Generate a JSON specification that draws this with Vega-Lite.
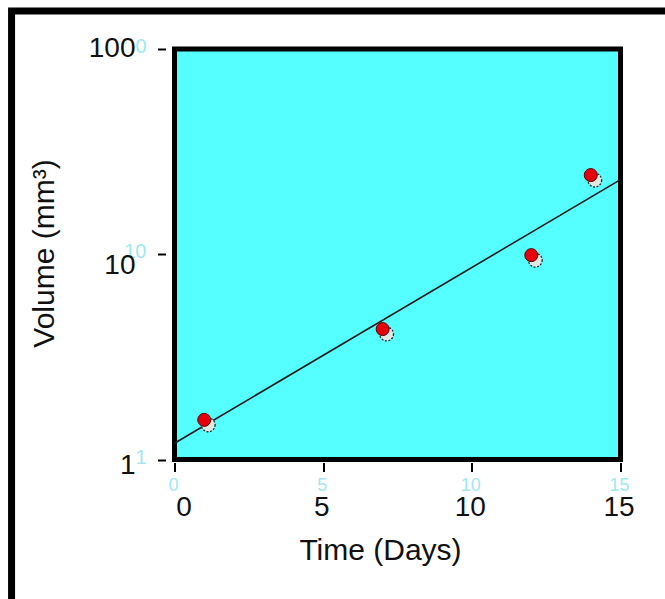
{
  "$schema": "https://vega.github.io/schema/vega-lite/v6.json",
  "width": 446,
  "height": 410.5,
  "autosize": {"type": "none"},
  "padding": {"left": 174.5, "top": 49, "right": 44.5, "bottom": 139.5},
  "background": "white",
  "datasets": {
    "points": [
      {"day": 1, "volume": 1.56},
      {"day": 7, "volume": 4.32},
      {"day": 12, "volume": 9.9},
      {"day": 14, "volume": 24.3}
    ],
    "fit": [
      {"day": 0, "volume": 1.2},
      {"day": 15, "volume": 23.1}
    ],
    "yghost": [
      {"value": 1, "label": "1"},
      {"value": 10, "label": "10"},
      {"value": 100, "label": "0"}
    ],
    "xghost": [
      {"value": 0, "label": "0"},
      {"value": 5, "label": "5"},
      {"value": 10, "label": "10"},
      {"value": 15, "label": "15"}
    ]
  },
  "layer": [
    {
      "data": {"values": [{}]},
      "mark": {"type": "rect", "fillOpacity": 0, "stroke": "black", "strokeWidth": 7, "clip": false},
      "encoding": {
        "x": {"datum": -5.48, "type": "quantitative", "scale": {"domain": [0, 15], "nice": false, "zero": false}},
        "x2": {"datum": 17.5},
        "y": {"datum": 153.2, "type": "quantitative", "scale": {"type": "log", "domain": [1, 100], "nice": false}},
        "y2": {"datum": 0.15}
      }
    },
    {
      "data": {"name": "fit"},
      "mark": {"type": "line", "color": "#1a1a1a", "strokeWidth": 1.6},
      "encoding": {
        "x": {"field": "day", "type": "quantitative"},
        "y": {"field": "volume", "type": "quantitative"}
      }
    },
    {
      "data": {"name": "points"},
      "mark": {"type": "point", "shape": "circle", "filled": true, "fill": "#dfe8e2", "stroke": "#1c2b2b", "strokeWidth": 1.3, "strokeDash": [2, 1.5], "size": 190, "opacity": 1, "xOffset": 4, "yOffset": 5},
      "encoding": {
        "x": {"field": "day", "type": "quantitative"},
        "y": {"field": "volume", "type": "quantitative"}
      }
    },
    {
      "data": {"name": "points"},
      "mark": {"type": "point", "shape": "circle", "filled": true, "fill": "#e3000c", "stroke": "#5a0000", "strokeWidth": 1, "size": 170, "opacity": 1},
      "encoding": {
        "x": {
          "field": "day", "type": "quantitative",
          "axis": {
            "title": "Time (Days)",
            "values": [0, 5, 10, 15],
            "domain": false, "grid": false, "zindex": 1,
            "offset": 3, "tickSize": 9, "tickWidth": 2, "tickColor": "black",
            "labelFont": "Liberation Sans", "labelFontSize": 28, "labelColor": "#111",
            "labelPadding": 22, "labelFlush": false, "labelOverlap": false,
            "labelOffset": {"condition": {"test": "datum.value === 0", "value": 9}, "value": -2},
            "titleFont": "Liberation Sans", "titleFontSize": 30, "titleFontWeight": "normal", "titleColor": "#111",
            "titleX": 205.5, "titleY": 97, "titleAlign": "center", "titleBaseline": "alphabetic", "titleAnchor": null
          }
        },
        "y": {
          "field": "volume", "type": "quantitative",
          "axis": {
            "title": "Volume (mm³)",
            "values": [1, 10, 100],
            "format": "d",
            "domain": false, "grid": false, "zindex": 1,
            "offset": 9, "tickSize": 8, "tickWidth": 2, "tickColor": "black",
            "labelFont": "Liberation Sans", "labelFontSize": 28, "labelColor": "#111",
            "labelPadding": 22.5, "labelFlush": false, "labelOverlap": false, "labelBaseline": "middle",
            "labelOffset": {"condition": [{"test": "datum.value === 10", "value": 11}, {"test": "datum.value === 1", "value": 6}], "value": -1},
            "titleFont": "Liberation Sans", "titleFontSize": 30, "titleFontWeight": "normal", "titleColor": "#111",
            "titleX": -112, "titleY": 204, "titleAngle": -90, "titleAlign": "center", "titleBaseline": "alphabetic", "titleAnchor": null
          }
        }
      }
    },
    {
      "data": {"name": "yghost"},
      "mark": {"type": "text", "align": "right", "baseline": "middle", "dx": -28, "dy": -2, "font": "Liberation Sans", "fontSize": 20, "color": "#9fe8ee"},
      "encoding": {
        "x": {"datum": 0, "type": "quantitative"},
        "y": {"field": "value", "type": "quantitative"},
        "text": {"field": "label"}
      }
    },
    {
      "data": {"name": "xghost"},
      "mark": {"type": "text", "align": "center", "baseline": "middle", "dx": -1, "dy": 26, "font": "Liberation Sans", "fontSize": 18, "color": "#9fe8ee"},
      "encoding": {
        "x": {"field": "value", "type": "quantitative"},
        "y": {"datum": 1, "type": "quantitative"},
        "text": {"field": "label"}
      }
    }
  ],
  "config": {
    "view": {"fill": "#55ffff", "stroke": "black", "strokeWidth": 5}
  }
}
